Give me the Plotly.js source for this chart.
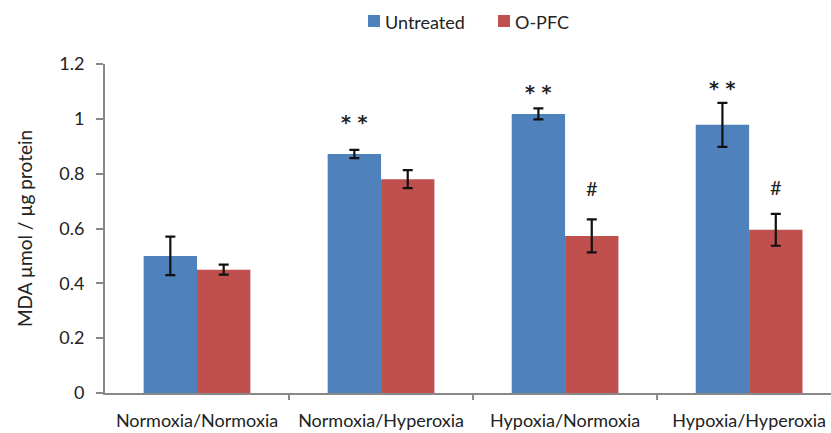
<!DOCTYPE html>
<html><head><meta charset="utf-8">
<script src="https://cdn.plot.ly/plotly-3.0.1.min.js"></script>
<style>body{margin:0;background:#fff}#c{width:831px;height:433px}</style>
</head><body><div id="c"></div>
<script>
const categories = ["Normoxia/Normoxia","Normoxia/Hyperoxia","Hypoxia/Normoxia","Hypoxia/Hyperoxia"];
const seriesNames = ["Untreated", "O-PFC"];
const untreated = [0.50, 0.872, 1.018, 0.978];
const untreatedErr = [0.07, 0.015, 0.02, 0.08];
const opfc = [0.45, 0.78, 0.573, 0.595];
const opfcErr = [0.018, 0.033, 0.06, 0.058];
const untreatedMarks = ["", "* *", "* *", "* *"];
const untreatedMarkY = [null, 1.011, 1.12, 1.135];
const opfcMarks = ["", "", "#", "#"];
const opfcMarkY = [null, null, 0.748, 0.752];
const yTicks = [0, 0.2, 0.4, 0.6, 0.8, 1, 1.2];
const colors = ["#4F81BD", "#C0504D"];

const FAM = "Lato, 'Open Sans', sans-serif";
const idx = categories.map((_, i) => i);
const traces = [
  {type: "bar", name: seriesNames[0], x: idx, y: untreated,
   marker: {color: colors[0]},
   error_y: {type: "data", array: untreatedErr, visible: true, color: "#111", thickness: 2.2, width: 5}},
  {type: "bar", name: seriesNames[1], x: idx, y: opfc,
   marker: {color: colors[1]},
   error_y: {type: "data", array: opfcErr, visible: true, color: "#111", thickness: 2.2, width: 5}}
];
const annotations = [];
const off = 0.145;
untreatedMarks.forEach((m, i) => { if (m) annotations.push({x: i - off, y: untreatedMarkY[i], yanchor: "middle", yshift: -6, text: "<b>" + m + "</b>", showarrow: false, font: {family: "'DejaVu Sans', sans-serif", size: 19, color: "#222"}}); });
opfcMarks.forEach((m, i) => { if (m) annotations.push({x: i + off, y: opfcMarkY[i], yanchor: "middle", text: m, showarrow: false, font: {family: FAM, size: 20, color: "#222"}}); });

// custom legend (pixel positions converted to paper coordinates)
const L = 105, W = 726, T = 64, H = 329;
const px = x => (x - L) / W, py = y => (T + H - y) / H;
const shapes = [0.5, 1.5, 2.5].map(b => ({type: "line", xref: "x", yref: "paper", x0: b, x1: b, y0: 0, y1: py(400), line: {color: "#888", width: 2}}));
const legendPos = [{sq: 368, tx: 383}, {sq: 498, tx: 513}];
seriesNames.forEach((n, k) => {
  shapes.push({type: "rect", xref: "paper", yref: "paper", x0: px(legendPos[k].sq), x1: px(legendPos[k].sq + 12), y0: py(27), y1: py(15), fillcolor: colors[k], line: {width: 0}});
  annotations.push({xref: "paper", yref: "paper", x: px(legendPos[k].tx), y: py(22), xanchor: "left", yanchor: "middle", text: n, showarrow: false, font: {family: FAM, size: 18, color: "#222"}});
});

Plotly.newPlot("c", traces, {
  width: 831, height: 433,
  margin: {l: L, r: 831 - L - W, t: T, b: 433 - T - H},
  paper_bgcolor: "#fff", plot_bgcolor: "#fff",
  font: {family: FAM, size: 17, color: "#222"},
  barmode: "group", bargap: 0.42, bargroupgap: 0,
  showlegend: false,
  xaxis: {type: "linear", range: [-0.5, 3.445], tickmode: "array", tickvals: idx, ticktext: categories,
          showline: true, linecolor: "#888", linewidth: 2, showgrid: false, zeroline: false,
          ticks: "", tickfont: {size: 18, color: "#222"}, ticklabelstandoff: 10},
  yaxis: {range: [0, 1.2], tickvals: yTicks, ticktext: yTicks.map(String),
          showline: true, linecolor: "#888", linewidth: 2, showgrid: false, zeroline: false,
          ticks: "outside", ticklen: 7, tickcolor: "#888", tickwidth: 2, tickfont: {size: 18, color: "#222"},
          ticklabelstandoff: 8,
          title: {text: "MDA µmol / µg protein", font: {size: 19, color: "#222"}, standoff: 22}},
  shapes: shapes,
  annotations: annotations
}, {displayModeBar: false, staticPlot: true});
</script></body></html>
